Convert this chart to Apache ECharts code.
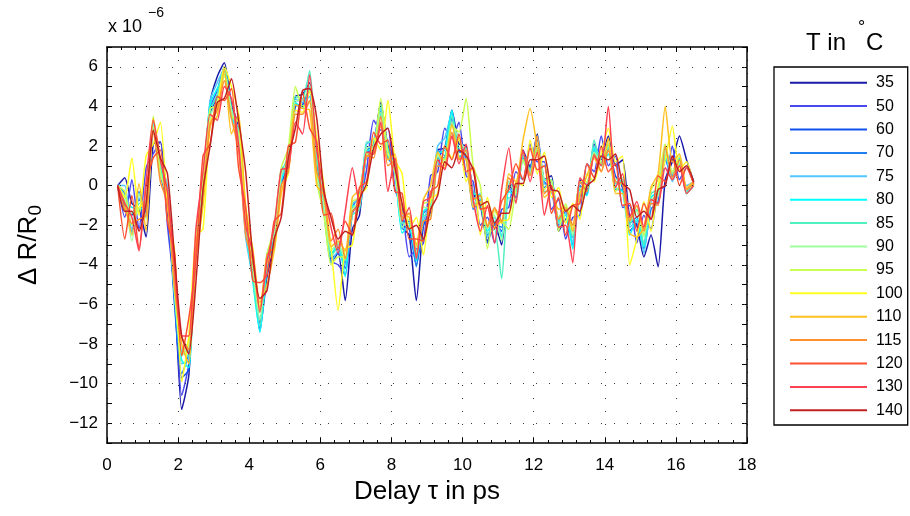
<!DOCTYPE html>
<html>
<head>
<meta charset="utf-8">
<script src="https://cdn.jsdelivr.net/npm/echarts@6.0.0/dist/echarts.min.js"></script>
<style>
  html, body { margin: 0; padding: 0; background: #fff; }
  #chart { width: 910px; height: 516px; }
</style>
</head>
<body>
<div id="chart"></div>
<script>
// Pump-probe reflectivity traces ΔR/R0 (units of 1e-6) versus delay, one per temperature.
const delays = [
  0.3, 0.5, 0.7, 0.9, 1.1, 1.3, 1.5, 1.7, 1.9, 2.1,
  2.3, 2.5, 2.7, 2.9, 3.1, 3.3, 3.5, 3.7, 3.9, 4.1,
  4.3, 4.5, 4.7, 4.9, 5.1, 5.3, 5.5, 5.7, 5.9, 6.1,
  6.3, 6.5, 6.7, 6.9, 7.1, 7.3, 7.5, 7.7, 7.9, 8.1,
  8.3, 8.5, 8.7, 8.9, 9.1, 9.3, 9.5, 9.7, 9.9, 10.1,
  10.3, 10.5, 10.7, 10.9, 11.1, 11.3, 11.5, 11.7, 11.9, 12.1,
  12.3, 12.5, 12.7, 12.9, 13.1, 13.3, 13.5, 13.7, 13.9, 14.1,
  14.3, 14.5, 14.7, 14.9, 15.1, 15.3, 15.5, 15.7, 15.9, 16.1, 16.3, 16.5
];

const temperatures = ['35', '50', '60', '70', '75', '80', '85', '90', '95', '100', '110', '115', '120', '130', '140'];

const lineColors = [
  '#1a1aa8', '#4848f0', '#1050f0', '#2080f0', '#50c8ff', '#00ffff', '#50f0c0', '#a0ffa0',
  '#c8ff50', '#ffff20', '#ffc020', '#ff9030', '#ff5030', '#ff4050', '#c02020'
];

const trace35 = [
  0, 0.4, -0.9, -1.2, -2.6, 2.1, 2.2, -1.3, -5.2, -11.3,
  -9.6, -3.4, -0.5, 4.2, 5.5, 6.2, 4.1, 3.0, -1.9, -4.2,
  -7.3, -4.6, -2.9, 0.2, 1.0, 4.5, 4.6, 5.2, 1.0, -0.8,
  -3.9, -3.4, -5.8, -2.2, -1.5, 1.7, 2.1, 4.2, 2.0, 1.3,
  -2.1, -2.5, -5.8, -2.0, -1.3, 1.8, 1.9, 3.8, 2.1, 2.0,
  -0.4, -1.0, -2.8, -1.9, -3.0, 0.0, -0.3, 1.8, 0.9, 2.6,
  0.3, 0.5, -2.3, -1.7, -2.6, 0.3, -0.2, 2.1, 1.4, 2.5,
  1.0, 1.3, -1.6, -2.0, -3.6, -2.5, -4.1, 0.3, 1.2, 2.5, 1.3, 0.2
];
const trace50 = [
  0, -1.6, 0.3, -2.2, 0.9, 1.6, 2.2, -2.0, -5.3, -10.6,
  -9.0, -3.3, -0.4, 3.9, 4.8, 6.0, 3.8, 2.6, -2.0, -4.5,
  -6.9, -4.2, -2.9, 0.5, 1.3, 4.3, 4.3, 4.8, 0.7, -1.0,
  -3.8, -4.0, -4.5, -1.4, -0.8, 0.8, 3.3, 2.8, 2.9, -0.2,
  -1.1, -3.6, -3.2, -2.9, 0.5, 0.7, 2.9, 2.4, 3.2, 0.5,
  0.2, -2.0, -1.6, -2.9, -1.2, -1.1, 0.7, 0.3, 2.1, 1.2,
  1.2, -1.2, -0.7, -2.7, -1.6, -1.5, 1.1, 0.7, 2.5, 1.0,
  1.5, -1.1, -1.0, -2.9, -1.5, -2.2, -0.3, 0.0, 2.0, 0.3, 0.9, 0.1
];
const trace60 = [
  0, -1.0, -1.5, -0.7, -1.2, 2.9, 0.6, -1.0, -6.0, -9.7,
  -9.3, -3.3, -0.2, 3.6, 4.5, 6.0, 4.0, 2.3, -2.4, -4.4,
  -7.2, -3.8, -2.5, 0.1, 0.9, 4.0, 4.1, 4.9, 0.6, -1.3,
  -3.7, -3.4, -3.9, -1.3, -1.0, 1.6, 1.8, 3.7, 1.6, 0.7,
  -2.0, -2.2, -4.0, -2.0, -1.3, 1.4, 1.4, 3.4, 1.8, 1.4,
  -0.9, -0.9, -2.9, -1.9, -2.3, -0.1, -0.6, 1.4, 1.0, 2.3,
  0.2, -0.2, -2.0, -1.7, -2.6, 0.0, -0.3, 1.6, 1.3, 1.8,
  0.5, -0.1, -2.3, -1.9, -3.0, -0.9, -0.9, 1.4, 0.6, 1.3, -0.4, 0.0
];
const trace70 = [
  0, -0.4, -2.3, -0.3, -1.4, 3.3, 0.9, -0.4, -5.8, -9.5,
  -8.5, -3.0, 0.0, 4.0, 4.4, 5.8, 3.7, 2.7, -2.0, -4.0,
  -6.9, -4.3, -2.3, 0.8, 1.2, 4.1, 4.0, 4.8, 0.9, -0.9,
  -3.4, -3.2, -4.2, -1.1, -0.5, 1.9, 2.0, 3.8, 1.4, 0.9,
  -1.8, -1.8, -4.1, -1.4, -1.1, 1.8, 1.5, 3.2, 1.7, 1.6,
  -1.2, -0.7, -2.5, -2.0, -2.1, 0.2, -0.2, 1.6, 0.6, 2.2,
  -0.1, 0.2, -1.8, -1.3, -3.0, -0.5, -0.4, 1.8, 1.1, 2.1,
  -0.2, -0.2, -1.9, -1.6, -3.2, -1.2, -0.8, 1.3, 0.5, 1.2, -0.3, 0.1
];
const trace75 = [
  0, 0.0, -2.4, -0.6, -1.6, 2.8, 1.2, 0.0, -5.2, -9.0,
  -8.8, -3.2, -0.1, 4.3, 5.2, 5.9, 3.6, 2.2, -2.6, -4.7,
  -7.4, -3.9, -2.6, 0.2, 1.4, 4.4, 4.2, 4.5, 0.3, -1.4,
  -3.9, -3.3, -4.0, -0.9, -0.7, 2.1, 2.3, 3.9, 1.8, 0.6,
  -2.2, -2.1, -3.6, -1.8, -0.8, 2.0, 2.4, 3.7, 1.5, 1.5,
  -0.7, -0.4, -2.6, -1.6, -2.5, -0.2, -0.3, 1.6, 0.8, 2.5,
  0.1, -0.1, -2.1, -1.4, -2.9, 0.1, 0.1, 2.0, 1.4, 1.9,
  0.2, 0.2, -2.1, -1.8, -3.4, -0.8, -0.4, 1.6, 0.2, 1.0, 0.0, 0.2
];
const trace80 = [
  0, -0.8, -1.1, -1.2, -1.0, 3.1, 0.8, -0.5, -5.4, -8.8,
  -9.2, -2.8, 0.3, 4.1, 4.9, 5.6, 3.4, 2.8, -2.1, -4.8,
  -7.4, -4.1, -2.7, 0.3, 1.1, 4.2, 3.9, 5.0, 0.8, -1.1,
  -3.5, -2.9, -4.6, -1.0, -1.1, 1.7, 2.0, 3.6, 1.9, 0.8,
  -2.4, -2.0, -3.8, -1.3, -1.0, 1.6, 1.8, 3.8, 1.4, 1.8,
  -0.4, -0.5, -2.3, -1.8, -2.6, -0.3, -0.5, 1.3, 0.6, 2.1,
  0.3, 0.3, -1.8, -1.5, -3.2, -0.2, -0.5, 1.9, 1.0, 1.6,
  -0.1, -0.3, -2.5, -1.7, -3.1, -0.6, -0.3, 1.5, 0.7, 1.4, -0.4, 0.0
];
const trace85 = [
  0, -1.3, -1.4, -0.9, -0.8, 3.2, 1.1, -0.7, -5.5, -8.4,
  -8.6, -2.6, 0.2, 3.8, 4.6, 6.0, 3.9, 2.5, -2.2, -4.6,
  -7.1, -3.7, -2.2, 0.6, 1.5, 4.5, 4.4, 5.8, 1.4, -0.7,
  -3.6, -3.1, -3.8, -1.5, -1.2, 2.2, 2.2, 4.1, 1.5, 1.1,
  -1.9, -1.9, -3.5, -1.5, -1.5, 1.3, 1.4, 3.5, 1.9, 1.9,
  -0.6, -0.9, -2.4, -2.2, -4.7, -0.6, -0.8, 1.5, 0.8, 1.9,
  -0.3, -0.3, -1.9, -1.1, -2.6, -0.1, -0.1, 2.3, 1.0, 2.0,
  0.1, 0.3, -2.0, -1.2, -3.0, -0.4, -0.2, 1.9, 0.4, 1.1, -0.3, 0.1
];
const trace90 = [
  0, -0.6, -2.8, -0.4, -1.7, 3.0, 0.5, -0.3, -5.0, -8.6,
  -8.1, -2.7, 0.1, 3.5, 4.3, 5.7, 3.8, 2.6, -1.8, -4.1,
  -6.8, -3.4, -2.5, 0.5, 1.4, 4.3, 4.3, 5.1, 0.5, -1.0,
  -3.3, -2.9, -3.7, -1.2, -0.8, 1.9, 2.0, 3.7, 1.6, 1.0,
  -2.1, -1.7, -3.4, -1.1, -1.1, 1.5, 1.2, 3.2, 2.3, 1.7,
  -1.0, -0.6, -2.2, -1.5, -2.8, 0.2, -0.4, 1.2, 0.6, 2.2,
  0.3, 0.2, -1.6, -1.0, -2.5, -0.4, 0.0, 1.7, 1.2, 2.3,
  0.3, 0.4, -1.8, -1.3, -2.6, -0.7, -0.5, 1.7, 0.6, 1.2, -0.4, 0.0
];
const trace95 = [
  0, -0.3, -2.0, -1.1, -0.9, 3.5, 0.7, -0.8, -5.3, -8.5,
  -7.8, -2.4, 0.4, 3.9, 4.0, 5.6, 3.5, 3.2, -1.6, -3.9,
  -6.4, -3.5, -2.1, 0.9, 1.9, 5.0, 4.0, 4.2, 0.2, -1.5,
  -4.0, -3.6, -3.6, -0.8, -0.6, 1.6, 1.7, 4.4, 1.7, 0.7,
  -1.7, -1.4, -3.1, -0.9, -0.8, 1.6, 1.3, 3.0, 2.7, 4.4,
  1.0, 0.0, -3.2, -1.3, -1.8, -2.2, -0.1, 1.3, 0.5, 1.8,
  -0.2, 0.3, -2.3, -0.9, -2.2, 0.2, 0.2, 1.5, 1.1, 2.1,
  -0.3, 0.2, -1.7, -1.0, -2.5, -0.2, 0.3, 2.1, 0.7, 1.5, -0.2, 0.1
];
const trace100 = [
  0, -0.6, 1.4, -1.5, 1.5, 2.1, 3.2, -1.0, -3.3, -9.9,
  -7.6, -2.5, -2.2, 3.2, 4.0, 6.0, 5.0, 3.6, -1.0, -3.3,
  -6.1, -3.9, -3.3, -0.3, 0.6, 3.8, 3.7, 4.8, 2.4, 0.0,
  -3.1, -6.3, -3.2, -3.0, -0.5, -0.1, 2.4, 1.8, 4.3, 1.3,
  0.6, -2.2, -1.6, -3.5, -0.7, -0.4, 2.0, 1.4, 2.4, 0.2,
  1.0, -2.5, -0.6, -2.1, -1.8, -1.7, 0.2, 0.0, 2.3, 0.6,
  1.7, -0.6, -0.1, -1.9, -0.9, -1.7, 0.6, 0.2, 1.6, 2.9,
  1.2, 1.5, -4.0, -2.7, -0.8, -2.3, 0.0, 1.3, 3.0, 0.8, 1.2, 0.0
];
const trace110 = [
  0, -0.9, -2.5, 0.1, -2.3, 3.4, 1.4, -0.4, -4.9, -8.0,
  -9.0, -3.7, -1.0, 3.0, 3.5, 5.9, 2.6, 3.6, -1.2, -3.2,
  -5.9, -5.0, -3.3, -0.4, 1.0, 4.1, 3.9, 3.8, 0.0, -0.5,
  -3.1, -2.8, -3.3, -0.6, -0.2, 1.5, 1.6, 3.0, 1.3, 1.6,
  -1.4, -1.6, -3.0, -0.7, 0.0, 1.7, 1.0, 3.1, 1.4, 1.3,
  -1.1, -0.8, -2.0, -1.2, -1.9, 0.6, 0.2, 2.3, 3.9, 1.9,
  -0.6, -0.3, -1.2, -1.1, -2.3, -0.4, 0.5, 1.4, 0.7, 2.4,
  -0.4, -0.4, -2.4, -2.6, -2.1, -0.1, 0.6, 4.0, 1.2, 1.6, -0.1, 0.2
];
const trace115 = [
  0, -1.2, -1.9, -1.7, -1.5, 2.8, 0.2, -0.9, -5.1, -7.6,
  -8.3, -3.1, -0.4, 3.1, 3.8, 5.3, 3.4, 1.8, -2.5, -3.8,
  -6.3, -3.5, -3.1, 0.0, 0.7, 3.6, 3.6, 4.3, 0.7, -0.4,
  -2.8, -2.2, -3.7, -1.3, -1.0, 1.5, 1.4, 3.5, 1.0, 1.3,
  -1.6, -1.4, -3.5, -1.8, -1.7, 1.0, 0.9, 2.7, 1.3, 1.8,
  -0.7, -0.5, -2.1, -1.1, -1.8, 0.4, -0.1, 1.7, 0.5, 2.5,
  -0.4, 0.0, -1.7, -1.2, -2.0, 0.2, -0.3, 1.6, 0.7, 1.8,
  0.2, 0.1, -1.8, -1.0, -2.3, -0.9, -1.0, 2.0, 0.4, 1.3, -0.2, 0.1
];
const trace120 = [
  0, -2.7, -0.5, -3.2, 0.0, 1.4, 1.8, -1.8, -3.4, -8.6,
  -6.7, -3.8, 1.5, 2.1, 4.5, 4.3, 4.9, 0.9, -1.1, -4.8,
  -4.9, -4.5, -1.8, -1.4, 2.0, 2.2, 4.7, 2.9, 2.2, -1.5,
  -1.4, -3.2, -1.8, -2.5, -0.1, 0.2, 2.7, 2.1, 2.3, -0.3,
  -0.4, -2.7, -2.7, -2.8, -0.3, 0.0, 2.0, 1.3, 2.6, 0.7,
  0.9, -1.2, -1.1, -2.2, -0.8, -0.2, 1.1, 0.3, 1.9, 0.8,
  1.0, -1.4, -0.6, -2.5, -1.0, -0.9, 1.1, 0.4, 2.0, 0.7,
  1.1, -1.0, -0.9, -2.3, -0.9, -1.7, 0.5, 0.2, 1.5, 0.0, 0.9, 0.1
];
const trace130 = [
  0, -0.9, -1.6, -3.3, 0.2, 3.3, 1.3, -0.3, -4.2, -7.6,
  -7.6, -2.2, 0.7, 3.6, 3.3, 5.0, 4.4, 2.1, -2.0, -3.4,
  -6.4, -3.8, -2.1, 0.8, 0.9, 3.2, 2.6, 5.6, 1.8, -0.2,
  -2.1, -3.4, -1.3, 0.9, -0.9, 1.7, 1.6, 3.2, -0.3, 1.4,
  -1.8, -1.1, -3.7, -0.8, -0.6, 1.3, 0.8, 2.5, 1.1, 2.1,
  -0.7, -2.3, -1.0, -2.9, -0.2, 1.9, -0.9, 1.8, 0.2, 1.7,
  -1.5, 0.0, -2.1, -2.0, -3.9, 0.4, 0.0, 1.5, 1.0, 4.0,
  -0.1, 0.6, -1.6, -0.8, -2.1, -0.7, -0.9, 0.9, 0.3, 1.0, -0.4, 0.0
];
const trace140 = [
  0, -1.3, -1.3, -2.3, -0.9, 2.8, 1.4, 0.6, -3.6, -7.6,
  -8.5, -4.9, -0.2, 2.0, 4.2, 4.4, 5.4, 3.3, 0.7, -3.6,
  -5.7, -5.3, -2.7, -1.6, 1.4, 2.9, 4.8, 4.9, 3.4, -0.3,
  -1.6, -2.7, -2.3, -2.5, -0.7, 0.1, 1.9, 2.6, 2.9, 0.9,
  -0.9, -2.2, -2.0, -2.7, -1.2, -0.5, 1.2, 0.9, 1.8, 1.5,
  0.8, -1.0, -0.8, -1.9, -1.4, -1.4, 0.1, 0.1, 1.3, 1.3,
  1.5, -0.2, -0.3, -1.3, -1.0, -1.3, 0.0, 0.3, 1.5, 1.3,
  1.6, 0.1, -0.2, -1.6, -1.3, -1.7, -0.2, 0.0, 1.5, 0.7, 1.0, 0.2
];

const traces = [
  trace35, trace50, trace60, trace70, trace75, trace80, trace85, trace90,
  trace95, trace100, trace110, trace115, trace120, trace130, trace140
];

// Horizontal dotted grid levels (the axis itself has a tick every unit)
const gridLevels = [-12, -10, -8, -6, -4, -2, 0, 2, 4, 6];

const FONT = 'Liberation Sans, Arial, Helvetica, sans-serif';
const dotted = { color: '#3a3a3a', width: 1, type: [1, 12] };

const chart = echarts.init(document.getElementById('chart'), null, { renderer: 'canvas' });

const series = temperatures.map((name, k) => ({
  name: name,
  type: 'line',
  xAxisIndex: 0,
  yAxisIndex: 0,
  data: delays.map((t, i) => [t, traces[k][i]]),
  showSymbol: false,
  symbol: 'none',
  smooth: 0.2,
  color: lineColors[k],
  lineStyle: { width: 1.5, color: lineColors[k] },
  emphasis: { disabled: true },
  silent: true,
  animation: false,
  z: 3
}));

// Dotted horizontal grid lines at the labelled levels
series.unshift({
  name: '__grid',
  type: 'line',
  data: [],
  xAxisIndex: 0,
  yAxisIndex: 0,
  silent: true,
  animation: false,
  z: 1,
  markLine: {
    silent: true,
    symbol: 'none',
    animation: false,
    label: { show: false },
    lineStyle: dotted,
    emphasis: { disabled: true },
    data: gridLevels.map(v => ({ yAxis: v }))
  }
});

const axisLine = { show: true, onZero: false, lineStyle: { color: '#000', width: 1.5 } };
const tickStyle = { show: true, inside: true, length: 5, lineStyle: { color: '#000', width: 1 } };
const minorStyle = { show: true, splitNumber: 5, length: 3, lineStyle: { color: '#000', width: 1 } };

const option = {
  backgroundColor: '#fff',
  animation: false,
  grid: { left: 107, right: 163, top: 47, bottom: 73, containLabel: false },
  xAxis: [
    {
      type: 'value', position: 'bottom', min: 0, max: 18, interval: 2,
      axisLine: axisLine,
      axisTick: tickStyle,
      minorTick: minorStyle,
      splitLine: { show: true, lineStyle: dotted },
      axisLabel: { color: '#000', fontSize: 17, fontFamily: FONT, margin: 14 },
      name: 'Delay τ in ps',
      nameLocation: 'middle',
      nameGap: 36,
      nameTextStyle: { color: '#000', fontSize: 26, fontFamily: FONT }
    },
    {
      type: 'value', position: 'top', min: 0, max: 18, interval: 2,
      axisLine: axisLine,
      axisTick: tickStyle,
      minorTick: minorStyle,
      splitLine: { show: false },
      axisLabel: { show: false }
    }
  ],
  yAxis: [
    {
      type: 'value', position: 'left', min: -13, max: 7, interval: 1,
      axisLine: axisLine,
      axisTick: tickStyle,
      splitLine: { show: false },
      axisLabel: {
        color: '#000', fontSize: 17, fontFamily: FONT, margin: 9,
        formatter: v => (Math.round(v) % 2 === 0 ? String(v).replace('-', '\u2212') : '')
      },
      name: 'Δ R/R{s|0}',
      nameLocation: 'middle',
      nameRotate: 90,
      nameGap: 62,
      nameTextStyle: {
        color: '#000', fontSize: 26, fontFamily: FONT,
        rich: { s: { fontSize: 19, fontFamily: FONT, color: '#000', padding: [14, 0, 0, 0] } }
      }
    },
    {
      type: 'value', position: 'right', min: -13, max: 7, interval: 1,
      axisLine: axisLine,
      axisTick: tickStyle,
      splitLine: { show: false },
      axisLabel: { show: false }
    }
  ],
  legend: {
    show: true,
    orient: 'vertical',
    left: 774,
    top: 67,
    icon: 'rect',
    itemWidth: 77,
    itemHeight: 2,
    itemGap: 0,
    padding: [4, 5, 3, 16],
    borderColor: '#000',
    borderWidth: 1.3,
    backgroundColor: '#fff',
    selectedMode: false,
    data: temperatures,
    textStyle: { color: '#000', fontSize: 16, fontFamily: FONT, lineHeight: 23.4, padding: [0, 0, 0, 4] }
  },
  graphic: [
    { type: 'text', left: 108, top: 18, silent: true,
      style: { text: 'x 10', font: '18px ' + FONT, fill: '#000' } },
    { type: 'text', left: 148, top: 6, silent: true,
      style: { text: '\u22126', font: '14px ' + FONT, fill: '#000' } },
    { type: 'text', left: 806, top: 31, silent: true,
      style: { text: 'T in', font: '24px ' + FONT, fill: '#000' } },
    { type: 'text', left: 858, top: 19, silent: true,
      style: { text: '°', font: '18px ' + FONT, fill: '#000' } },
    { type: 'text', left: 866, top: 31, silent: true,
      style: { text: 'C', font: '24px ' + FONT, fill: '#000' } }
  ],
  series: series
};

chart.setOption(option);
</script>
</body>
</html>
